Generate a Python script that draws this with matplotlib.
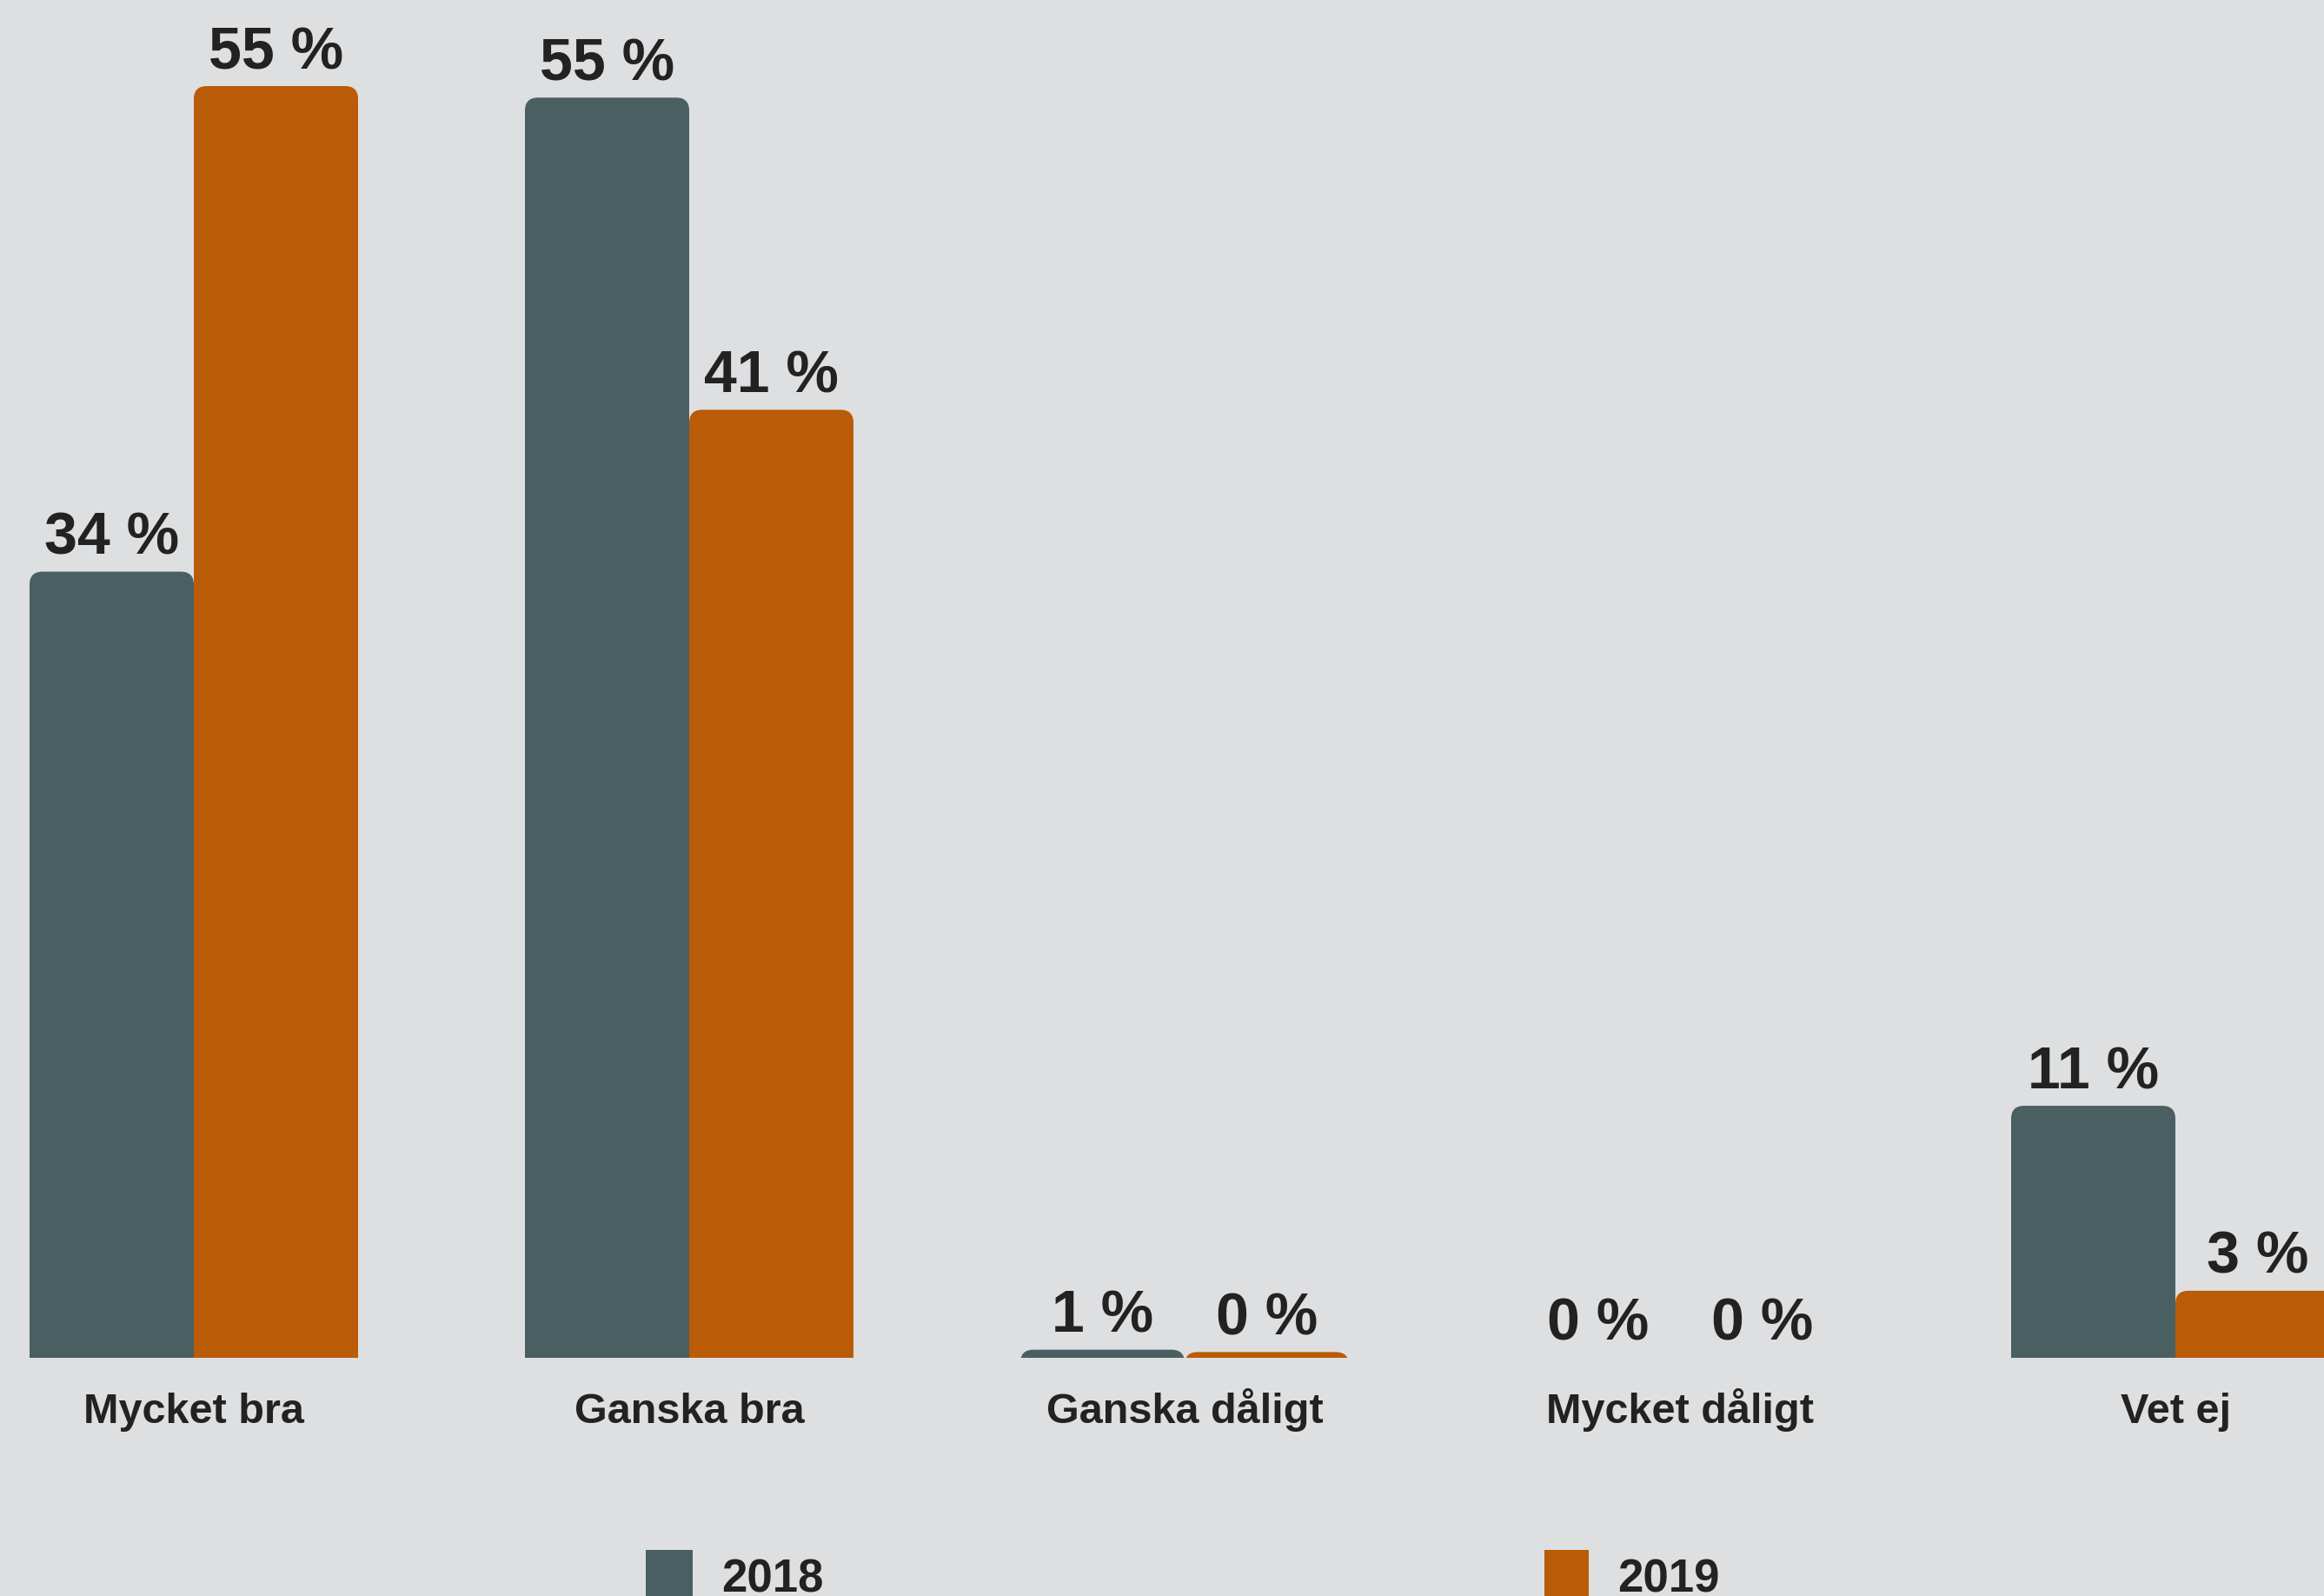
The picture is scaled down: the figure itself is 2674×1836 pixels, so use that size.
import numpy as np
import matplotlib
matplotlib.use('Agg')
import matplotlib.pyplot as plt
from matplotlib.patches import FancyBboxPatch, Rectangle

plt.rcParams['font.family'] = ['Liberation Sans', 'DejaVu Sans']

categories = ['Mycket bra', 'Ganska bra', 'Ganska dåligt', 'Mycket dåligt', 'Vet ej']
years = ['2018', '2019']
values_2018 = [34.0, 54.5, 0.35, 0.0, 10.9]
values_2019 = [55.0, 41.0, 0.25, 0.0, 2.9]
labels_2018 = ['34 %', '55 %', '1 %', '0 %', '11 %']
labels_2019 = ['55 %', '41 %', '0 %', '0 %', '3 %']

colors = ['#4a5f61', '#ba5b07']
bg = '#dedfe1'
txt = '#222222'

W, H = 2674, 1836
fig = plt.figure(figsize=(W / 100, H / 100), dpi=100, facecolor=bg)
base = 274  # px from bottom of figure to bar baseline
ax = fig.add_axes([0, base / H, 1, 1 - base / H])
ax.set_facecolor(bg)
for s in ax.spines.values():
    s.set_visible(False)

px_unit_x = 570.0   # pixels per category
px_unit_y = 26.6    # pixels per percent
x_first = 223       # px position of first group centre
ax.set_xlim(-x_first / px_unit_x, (W - x_first) / px_unit_x)
ax.set_ylim(0, (H - base) / px_unit_y)
ax.set_yticks([])

x = np.arange(len(categories))
w = 189 / px_unit_x
aspect = px_unit_x / px_unit_y
rs = 15 / px_unit_x
extra = 1.5

for i, (vals, labs) in enumerate([(values_2018, labels_2018), (values_2019, labels_2019)]):
    offs = (i - 0.5) * w
    for xi, v, lab in zip(x, vals, labs):
        xc = xi + offs
        if v > 0:
            p = FancyBboxPatch((xc - w / 2, -extra), w, v + extra,
                               boxstyle=f'round,pad=0,rounding_size={rs}',
                               mutation_aspect=aspect, facecolor=colors[i],
                               edgecolor='none', linewidth=0)
            ax.add_patch(p)
        ax.annotate(lab, (xc, v), xytext=(0, 14.4), textcoords='offset points',
                    ha='center', va='baseline', fontsize=49, fontweight='bold',
                    color=txt, annotation_clip=False)

ax.set_xticks(x)
ax.set_xticklabels(categories, fontsize=35, fontweight='bold', color=txt)
for t in ax.get_xticklabels():
    t.set_verticalalignment('baseline')
ax.tick_params(axis='x', length=0, pad=54)

# legend
leg_sq = [(743, 1777), (797, 1828)]
leg_txt = [830, 1861]
for i, year in enumerate(years):
    x0 = leg_sq[0][i]
    x1 = leg_sq[1][i]
    fig.add_artist(Rectangle((x0 / W, -2 / H), (x1 - x0) / W, 55 / H,
                             transform=fig.transFigure, facecolor=colors[i],
                             edgecolor='none'))
    fig.text(leg_txt[i] / W, 5 / H, year, fontsize=38, fontweight='bold',
             color=txt, ha='left', va='baseline')

fig.savefig('out.png', dpi=100, facecolor=bg)
